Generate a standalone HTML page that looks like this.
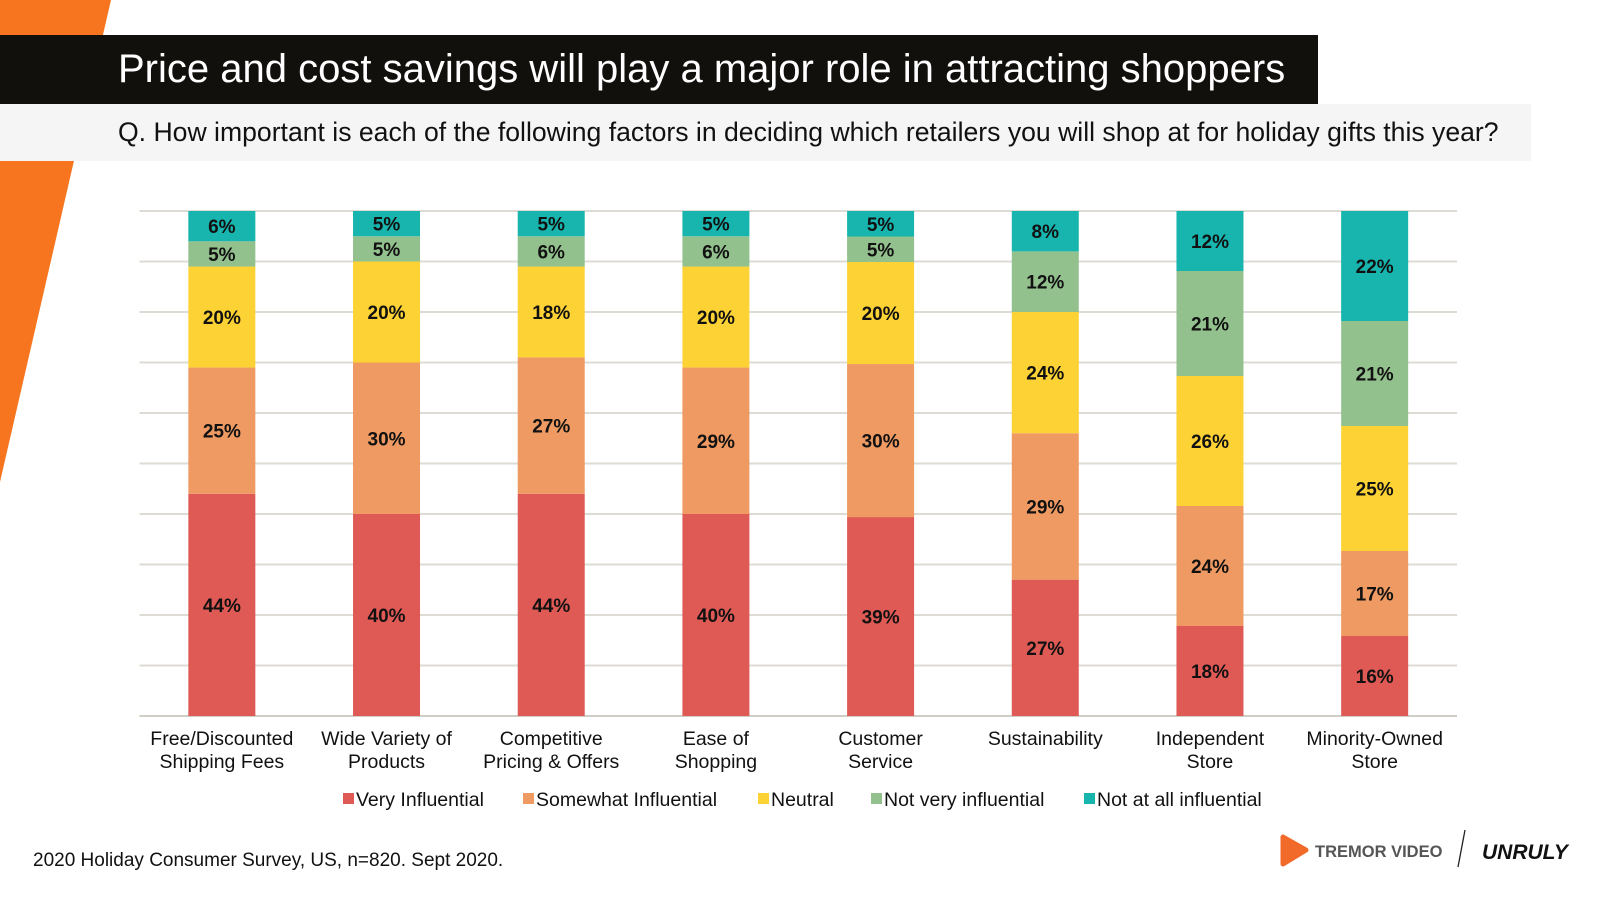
<!DOCTYPE html>
<html><head><meta charset="utf-8"><style>
body{margin:0;width:1600px;height:900px;overflow:hidden;background:#fff;font-family:"Liberation Sans",Arial,sans-serif;}
</style></head><body>
<svg id="chart" width="1600" height="900" xmlns="http://www.w3.org/2000/svg" font-family="Liberation Sans, Arial, sans-serif">
<polygon points="0,0 111,0 0,482" fill="#F7751E"/>
<rect x="0" y="35" width="1318" height="69" fill="#11100d"/>
<text x="118" y="82" font-size="40" fill="#fff">Price and cost savings will play a major role in attracting shoppers</text>
<rect x="0" y="104" width="1531" height="57" fill="#f5f5f5"/>
<text x="118" y="141" font-size="26.6" fill="#111">Q. How important is each of the following factors in deciding which retailers you will shop at for holiday gifts this year?</text>
<g id="grid"></g><g id="bars"></g><g id="xlabels"></g><g id="legend"></g>
<text x="33" y="866" font-size="19" fill="#111">2020 Holiday Consumer Survey, US, n=820. Sept 2020.</text>
<g>
<path d="M1283,837 L1306,850 L1283,864 Z" fill="#F26A2A" stroke="#F26A2A" stroke-width="5" stroke-linejoin="round"/>
<text x="1315" y="857" font-size="16.5" font-weight="bold" fill="#555">TREMOR VIDEO</text>
</g>
<line x1="1465" y1="830" x2="1458" y2="867" stroke="#222" stroke-width="1.3"/>
<text x="1482" y="859" font-size="21" font-weight="bold" font-style="italic" fill="#111">UNRULY</text>
</svg>
<script>
const categories=[["Free/Discounted","Shipping Fees"],["Wide Variety of","Products"],["Competitive","Pricing & Offers"],["Ease of","Shopping"],["Customer","Service"],["Sustainability"],["Independent","Store"],["Minority-Owned","Store"]];
const seriesNames=["Very Influential","Somewhat Influential","Neutral","Not very influential","Not at all influential"];
const veryInfluential=[44,40,44,40,39,27,18,16];
const somewhatInfluential=[25,30,27,29,30,29,24,17];
const neutral=[20,20,18,20,20,24,26,25];
const notVeryInfluential=[5,5,6,6,5,12,21,21];
const notAtAllInfluential=[6,5,5,5,5,8,12,22];
const colors=["#E05A55","#EE9A62","#FDD235","#93C18E","#17B5AE"];
const series=[veryInfluential,somewhatInfluential,neutral,notVeryInfluential,notAtAllInfluential];
const NS="http://www.w3.org/2000/svg";
const X0=139.5,X1=1457,Y0=716,Y1=211,BW=67;
const step=(X1-X0)/categories.length;
function xc(i){return X0+step*(i+0.5);}
function y(p){return Y0-(Y0-Y1)*p/100;}
function mk(t,a,p){const e=document.createElementNS(NS,t);for(const k in a)e.setAttribute(k,a[k]);p.appendChild(e);return e;}
const grid=document.getElementById('grid');
for(let k=0;k<=10;k++){const l=mk('line',{x1:X0,x2:X1,y1:y(k*10),y2:y(k*10),stroke:k==0?'#d0cdc6':'#dedbd4','stroke-width':2},grid);

}
const bars=document.getElementById('bars');
categories.forEach((c,i)=>{
 let tot=0;series.forEach(s=>tot+=s[i]);
 let cum=0;
 series.forEach((s,j)=>{
  const a=cum/tot*100,b=(cum+s[i])/tot*100;cum+=s[i];
  const r=mk('rect',{x:xc(i)-BW/2,y:y(b),width:BW,height:y(a)-y(b),fill:colors[j]},bars);
  
  
  const t=mk('text',{x:xc(i),y:(y(a)+y(b))/2+7,'text-anchor':'middle','font-size':19,'font-weight':'bold',fill:'#111'},bars);
  t.textContent=s[i]+'%';
  
  
 });
});
const xl=document.getElementById('xlabels');
categories.forEach((c,i)=>{c.forEach((ln,k)=>{
 const t=mk('text',{x:xc(i),y:745+k*23,'text-anchor':'middle','font-size':19.5,fill:'#111'},xl);
 t.textContent=ln;
 
 
});});
const lg=document.getElementById('legend');
const lx=[343,523,758,871,1084];
seriesNames.forEach((n,j)=>{
 const g=mk('g',{},lg);
 
 
 mk('rect',{x:lx[j],y:793,width:11,height:11,fill:colors[j]},g);
 const t=mk('text',{x:lx[j]+13,y:806,'font-size':19.5,fill:'#111'},g);
 t.textContent=n;
});
</script>
</body></html>
